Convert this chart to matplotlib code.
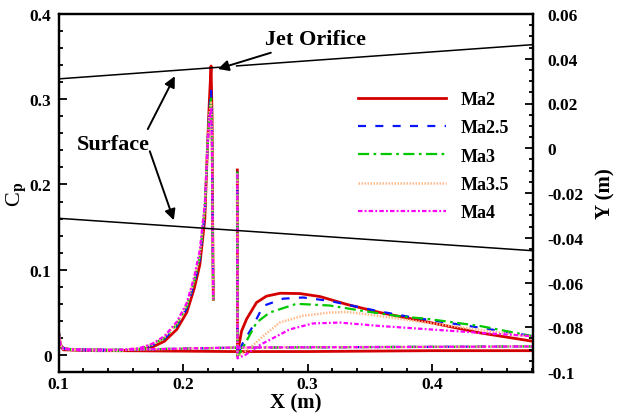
import matplotlib
matplotlib.use('Agg')
import matplotlib.pyplot as plt
from matplotlib.ticker import MultipleLocator, FuncFormatter

plt.rcParams['font.family'] = ['Liberation Serif', 'DejaVu Serif']
plt.rcParams['font.weight'] = 'bold'
plt.rcParams['mathtext.fontset'] = 'stix'
plt.rcParams['mathtext.default'] = 'bf'

# Mach cases
labels = ['Ma2', 'Ma2.5', 'Ma3', 'Ma3.5', 'Ma4']
colors = ['#d40000', '#0a14ff', '#00c800', '#ffb98a', '#ff00ff']
widths = [2.0, 1.6, 1.6, 1.8, 1.6]
styles = ['-', (0, (3.6, 4.2)), (0, (5, 2, 1.2, 2)), (0, (0.6, 0.6)), (0, (2, 1, 0.8, 1))]

# upstream wall, up to the jet orifice
x_up = [0.100, 0.1015, 0.104, 0.110, 0.130, 0.150, 0.165, 0.175, 0.185, 0.195,
        0.203, 0.209, 0.2135, 0.2175, 0.2195, 0.2212, 0.2225, 0.2233, 0.2238, 0.2243]
cp_up = [
    [0.029, 0.012, 0.008, 0.006, 0.005, 0.005, 0.006, 0.009, 0.016, 0.030,
     0.050, 0.078, 0.106, 0.160, 0.240, 0.300, 0.339, 0.280, 0.150, 0.065],
    [0.029, 0.012, 0.008, 0.006, 0.005, 0.005, 0.007, 0.011, 0.019, 0.034,
     0.055, 0.084, 0.112, 0.168, 0.240, 0.290, 0.311, 0.260, 0.140, 0.065],
    [0.029, 0.012, 0.008, 0.006, 0.005, 0.005, 0.007, 0.012, 0.020, 0.036,
     0.057, 0.087, 0.116, 0.172, 0.240, 0.285, 0.301, 0.250, 0.140, 0.064],
    [0.029, 0.012, 0.008, 0.006, 0.005, 0.005, 0.008, 0.012, 0.021, 0.037,
     0.059, 0.089, 0.119, 0.175, 0.240, 0.282, 0.296, 0.250, 0.140, 0.064],
    [0.029, 0.012, 0.008, 0.006, 0.005, 0.006, 0.008, 0.013, 0.022, 0.039,
     0.061, 0.092, 0.123, 0.178, 0.240, 0.278, 0.290, 0.240, 0.130, 0.063],
]

# downstream wall, after the jet orifice
x_down = [
    [0.2436, 0.2437, 0.2445, 0.247, 0.251, 0.259, 0.267, 0.278, 0.294, 0.310,
     0.331, 0.358, 0.385, 0.412, 0.438, 0.481],
    [0.2436, 0.2437, 0.245, 0.2482, 0.2562, 0.2643, 0.2803, 0.2964, 0.3178,
     0.335, 0.358, 0.3845, 0.4117, 0.4383, 0.481],
    [0.2436, 0.2437, 0.246, 0.251, 0.259, 0.2696, 0.2911, 0.3178, 0.3446,
     0.3714, 0.398, 0.4383, 0.481],
    [0.2436, 0.2437, 0.248, 0.255, 0.2643, 0.2777, 0.2964, 0.3178, 0.3313,
     0.358, 0.3847, 0.425, 0.481],
    [0.2436, 0.2437, 0.245, 0.250, 0.256, 0.262, 0.270, 0.2857, 0.3044,
     0.3259, 0.358, 0.398, 0.438, 0.481],
]
cp_down = [
    [0.217, 0.000, 0.008, 0.028, 0.042, 0.0615, 0.069, 0.0724, 0.072, 0.0685,
     0.0595, 0.0498, 0.0419, 0.034, 0.026, 0.016],
    [0.215, -0.001, 0.004, 0.0146, 0.034, 0.0575, 0.066, 0.0674, 0.0634,
     0.058, 0.051, 0.044, 0.038, 0.032, 0.022],
    [0.215, -0.002, 0.003, 0.0164, 0.038, 0.0498, 0.060, 0.058, 0.0516,
     0.0458, 0.042, 0.034, 0.022],
    [0.213, -0.002, 0.002, 0.010, 0.022, 0.038, 0.046, 0.0497, 0.0505,
     0.0458, 0.040, 0.032, 0.021],
    [0.212, -0.004, -0.003, 0.000, 0.006, 0.012, 0.018, 0.030, 0.037,
     0.038, 0.034, 0.030, 0.026, 0.022],
]

# opposite wall, nearly flat
x_wall = [0.100, 0.1015, 0.104, 0.150, 0.240, 0.300, 0.400, 0.481]
cp_wall = [
    [0.026, 0.010, 0.006, 0.005, 0.004, 0.004, 0.005, 0.005],
    [0.028, 0.011, 0.007, 0.006, 0.0085, 0.009, 0.0095, 0.010],
    [0.028, 0.011, 0.007, 0.006, 0.0085, 0.009, 0.0095, 0.010],
    [0.028, 0.011, 0.007, 0.006, 0.0085, 0.009, 0.0095, 0.010],
    [0.028, 0.011, 0.007, 0.006, 0.0087, 0.009, 0.0095, 0.010],
]

# channel surfaces (right axis)
surf_top_x = [[0.100, 0.229], [0.243, 0.481]]
surf_top_y = [[0.0310, 0.0362], [0.0368, 0.0463]]
surf_bot_x = [0.100, 0.481]
surf_bot_y = [-0.0313, -0.0458]

fig = plt.figure(figsize=(6.22, 4.14), dpi=100)
ax = fig.add_axes([58.5 / 622, 41 / 414, 474.5 / 622, 358 / 414])

for i in range(len(labels)):
    kw = dict(color=colors[i], lw=widths[i], ls=styles[i])
    ax.plot(x_wall, cp_wall[i], **kw)
    ax.plot(x_up, cp_up[i], **kw)
    ax.plot(x_down[i], cp_down[i], label=labels[i], **kw)

ax.set_xlim(0.1, 0.481)
ax.set_ylim(-0.02, 0.4)
ax.xaxis.set_major_locator(MultipleLocator(0.1))
ax.xaxis.set_minor_locator(MultipleLocator(0.02))
ax.yaxis.set_major_locator(MultipleLocator(0.1))
ax.yaxis.set_minor_locator(MultipleLocator(0.02))
fmt = FuncFormatter(lambda v, p: '%g' % (round(v, 4) + 0.0))
ax.xaxis.set_major_formatter(fmt)
ax.yaxis.set_major_formatter(fmt)
ax.tick_params(which='both', direction='in', top=False, right=False,
               labelsize=12.5, width=1.3)
ax.tick_params(which='major', length=6)
ax.tick_params(axis='x', which='major', pad=3)
ax.tick_params(axis='y', which='major', pad=5)
ax.tick_params(which='minor', length=3)
ax.set_xlabel('X (m)', fontsize=15, fontweight='bold', labelpad=0)
ax.set_ylabel(r'C$_p$', fontsize=16, labelpad=1)

ax2 = ax.twinx()
ax2.set_ylim(-0.1, 0.06)
ax2.yaxis.set_major_locator(MultipleLocator(0.02))
ax2.yaxis.set_minor_locator(MultipleLocator(0.005))
ax2.yaxis.set_major_formatter(fmt)
ax2.tick_params(which='both', direction='in', labelsize=12.5, width=1.3)
ax2.tick_params(which='major', length=6, pad=10)
ax2.tick_params(which='minor', length=3)
ax2.set_ylabel('Y (m)', fontsize=15, fontweight='bold', labelpad=9)
for seg_x, seg_y in zip(surf_top_x, surf_top_y):
    ax2.plot(seg_x, seg_y, color='black', lw=1.1)
ax2.plot(surf_bot_x, surf_bot_y, color='black', lw=1.1)

for a in (ax, ax2):
    for s in a.spines.values():
        s.set_linewidth(1.6)

arrow = dict(arrowstyle='-|>', color='black', lw=1.4, mutation_scale=16)
ax.annotate('Jet Orifice', xy=(0.2279, 0.3355), xytext=(0.2656, 0.3705),
            fontsize=16, fontweight='bold', ha='left', va='center',
            arrowprops=dict(arrow, shrinkA=2, shrinkB=0))
ax.annotate('', xy=(0.1934, 0.327), xytext=(0.1717, 0.265),
            arrowprops=dict(arrow, shrinkA=0, shrinkB=0))
ax.annotate('', xy=(0.1926, 0.158), xytext=(0.1733, 0.239),
            arrowprops=dict(arrow, shrinkA=0, shrinkB=0))
ax.text(0.1444, 0.2473, 'Surface', fontsize=16, fontweight='bold',
        ha='center', va='center')

ax.legend(loc='upper left', bbox_to_anchor=(358 / 622, 1 - 92 / 414),
          bbox_transform=fig.transFigure, frameon=False, fontsize=13,
          handlelength=4.9, handletextpad=0.8, labelspacing=0.63,
          borderpad=0, borderaxespad=0)

fig.savefig('out.png', dpi=100)
